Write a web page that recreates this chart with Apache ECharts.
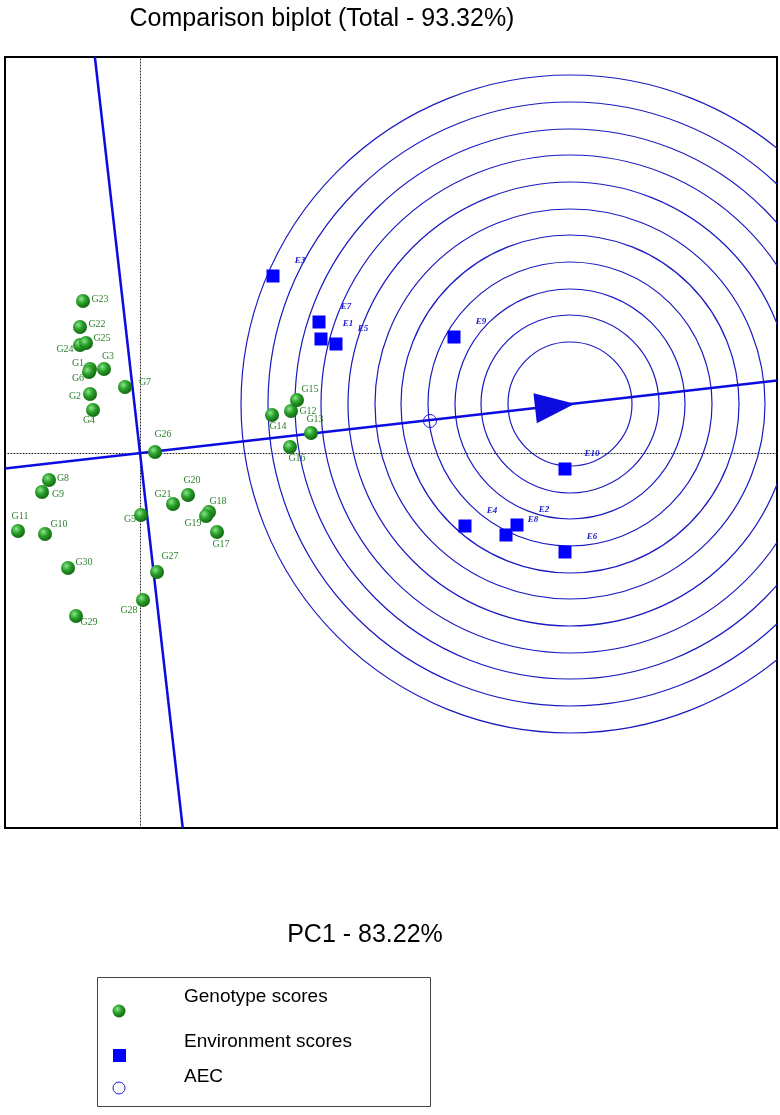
<!DOCTYPE html>
<html><head><meta charset="utf-8">
<script src="https://cdn.jsdelivr.net/npm/echarts@6/dist/echarts.min.js"></script>
<style>html,body{margin:0;padding:0;background:#fff}#c{width:780px;height:1115px}</style>
</head><body><div id="c"></div>
<script>
// ---- data (biplot scores, arbitrary but equal-scale units) ----
const genotypeNames = ['G1','G2','G3','G4','G5','G6','G7','G8','G9','G10','G11','G12','G13','G14','G15','G16','G17','G18','G19','G20','G21','G22','G23','G24','G25','G26','G27','G28','G29','G30'];
const genotypePC1 = [-0.50,-0.50,-0.36,-0.47,0.01,-0.51,-0.15,-0.91,-0.98,-0.95,-1.22,1.51,1.71,1.32,1.57,1.50,0.77,0.69,0.66,0.48,0.33,-0.60,-0.57,-0.60,-0.54,0.15,0.17,0.03,-0.64,-0.72];
const genotypePC2 = [0.84,0.59,0.84,0.43,-0.62,0.81,0.66,-0.27,-0.39,-0.81,-0.78,0.42,0.20,0.38,0.53,0.06,-0.79,-0.59,-0.63,-0.42,-0.51,1.26,1.52,1.08,1.10,0.01,-1.19,-1.47,-1.63,-1.15];
const envNames = ['E1','E2','E3','E4','E5','E6','E7','E8','E9','E10'];
const envPC1 = [1.81,3.77,1.33,3.25,1.96,4.25,1.79,3.66,3.14,4.25];
const envPC2 = [1.14,-0.72,1.77,-0.73,1.09,-0.99,1.31,-0.82,1.16,-0.16];
const aecPoint = [2.90, 0.32];
const idealPoint = [4.30, 0.49];
const arrowPoint = [4.15, 0.47];
const ringRadii = [0.62,0.89,1.15,1.42,1.69,1.95,2.22,2.49,2.75,3.02,3.29];
const xRange = [-1.35, 6.37];
const yRange = [-3.75, 3.96];

// ---- label placement (style only) ----
const gLabelOffset = {G1:[-12,-6],G2:[-15,2],G3:[4,-13],G4:[-4,10],G5:[-11,4],G6:[-11,6],G7:[20,-5],G8:[14,-2],G9:[16,2],G10:[14,-10],G11:[2,-15],G12:[17,0],G13:[4,-14],G14:[6,11],G15:[13,-11],G16:[7,11],G17:[4,12],G18:[9,-11],G19:[-13,7],G20:[4,-15],G21:[-10,-10],G22:[17,-3],G23:[17,-2],G24:[-15,4],G25:[16,-5],G26:[8,-18],G27:[13,-16],G28:[-14,10],G29:[13,6],G30:[16,-6]};
const eLabelOffset = [27,-15];

const ballColor = {type:'radial', x:0.38, y:0.35, r:0.7, colorStops:[
  {offset:0, color:'#8fe48f'},{offset:0.45, color:'#2aa22a'},{offset:1, color:'#0f600f'}]};
const lineBlue = '#0c0ce0';

const slope = idealPoint[1] / idealPoint[0];
const aecLine = [[xRange[0], xRange[0]*slope],[xRange[1], xRange[1]*slope]];
const ordLine = [[-slope*yRange[1], yRange[1]],[-slope*yRange[0], yRange[0]]];
const arrowAngle = Math.atan(slope) * 180 / Math.PI;

const gData = genotypeNames.map((n,i)=>({name:n, value:[genotypePC1[i], genotypePC2[i]],
  label:{offset:gLabelOffset[n]}}));
const eData = envNames.map((n,i)=>({name:n, value:[envPC1[i], envPC2[i]]}));

const chart = echarts.init(document.getElementById('c'), null, {renderer:'canvas'});
chart.setOption({
  animation:false,
  backgroundColor:'#fff',
  grid:{left:5, top:57, width:772, height:771, show:true, borderColor:'#000', borderWidth:2, backgroundColor:'#fff'},
  xAxis:{type:'value', min:xRange[0], max:xRange[1], axisLabel:{show:false}, axisTick:{show:false}, splitLine:{show:false},
    axisLine:{onZero:true, lineStyle:{color:'#222', type:[1,2], width:1}}},
  yAxis:{type:'value', min:yRange[0], max:yRange[1], axisLabel:{show:false}, axisTick:{show:false}, splitLine:{show:false},
    axisLine:{onZero:true, lineStyle:{color:'#222', type:[1,2], width:1}}},
  graphic:[
    {type:'text', style:{text:'Comparison biplot (Total - 93.32%)', x:322, y:19, align:'center', verticalAlign:'middle', fontFamily:'Liberation Sans, Arial', fontSize:25, fill:'#000'}},
    {type:'text', style:{text:'PC1 - 83.22%', x:365, y:935, align:'center', verticalAlign:'middle', fontFamily:'Liberation Sans, Arial', fontSize:25, fill:'#000'}},
    {type:'rect', shape:{x:97.5, y:977.5, width:333, height:129}, style:{fill:'none', stroke:'#444', lineWidth:1}},
    {type:'circle', shape:{cx:119, cy:1011, r:6.5}, style:{fill:ballColor}},
    {type:'text', style:{text:'Genotype scores', x:184, y:997, verticalAlign:'middle', fontFamily:'Liberation Sans, Arial', fontSize:19, fill:'#000'}},
    {type:'rect', shape:{x:113, y:1049, width:13, height:13}, style:{fill:'#0000ff'}},
    {type:'text', style:{text:'Environment scores', x:184, y:1042, verticalAlign:'middle', fontFamily:'Liberation Sans, Arial', fontSize:19, fill:'#000'}},
    {type:'circle', shape:{cx:119, cy:1088, r:6}, style:{fill:'none', stroke:'#1a1ae0', lineWidth:1}},
    {type:'text', style:{text:'AEC', x:184, y:1077, verticalAlign:'middle', fontFamily:'Liberation Sans, Arial', fontSize:19, fill:'#000'}}
  ],
  series:[
    {type:'custom', name:'rings', z:1, clip:true, silent:true,
     data: ringRadii.map(r=>[idealPoint[0], idealPoint[1], r]),
     encode:{x:0, y:1},
     renderItem:function(params, api){
       const c = api.coord([api.value(0), api.value(1)]);
       const s = api.size([api.value(2), api.value(2)]);
       const cs = params.coordSys;
       return {type:'circle', shape:{cx:c[0], cy:c[1], r:s[0]},
         style:{fill:'none', stroke:'#1a1ac0', lineWidth:1.2},
         clipPath:{type:'rect', shape:{x:cs.x, y:cs.y, width:cs.width, height:cs.height}}};
     }},
    {type:'line', name:'AEC abscissa', data:aecLine, symbol:'none', z:3, clip:true, lineStyle:{color:lineBlue, width:2.5, opacity:1}},
    {type:'line', name:'AEC ordinate', data:ordLine, symbol:'none', z:3, clip:true, lineStyle:{color:lineBlue, width:2.5, opacity:1}},
    {type:'scatter', name:'arrow', data:[arrowPoint], symbol:'triangle', symbolSize:[30,40], symbolRotate:-90+arrowAngle, z:4,
     itemStyle:{color:lineBlue, opacity:1}},
    {type:'scatter', name:'AEC', data:[aecPoint], symbol:'circle', symbolSize:13, z:4,
     itemStyle:{color:'rgba(0,0,0,0)', borderColor:'#1a1ae0', borderWidth:1, opacity:1}},
    {type:'scatter', name:'Environment scores', data:eData, symbol:'rect', symbolSize:13, z:5,
     itemStyle:{color:'#0000ff', opacity:1},
     label:{show:true, position:'inside', offset:eLabelOffset, formatter:'{b}', color:'#1a1ad0',
       fontFamily:'Liberation Serif, Times New Roman', fontStyle:'italic', fontWeight:'bold', fontSize:9}},
    {type:'scatter', name:'Genotype scores', data:gData, symbol:'circle', symbolSize:14, z:6,
     itemStyle:{color:ballColor, opacity:1},
     label:{show:true, position:'inside', formatter:'{b}', color:'#2f822f',
       fontFamily:'Liberation Serif, Times New Roman', fontSize:10}}
  ]
});
</script></body></html>
